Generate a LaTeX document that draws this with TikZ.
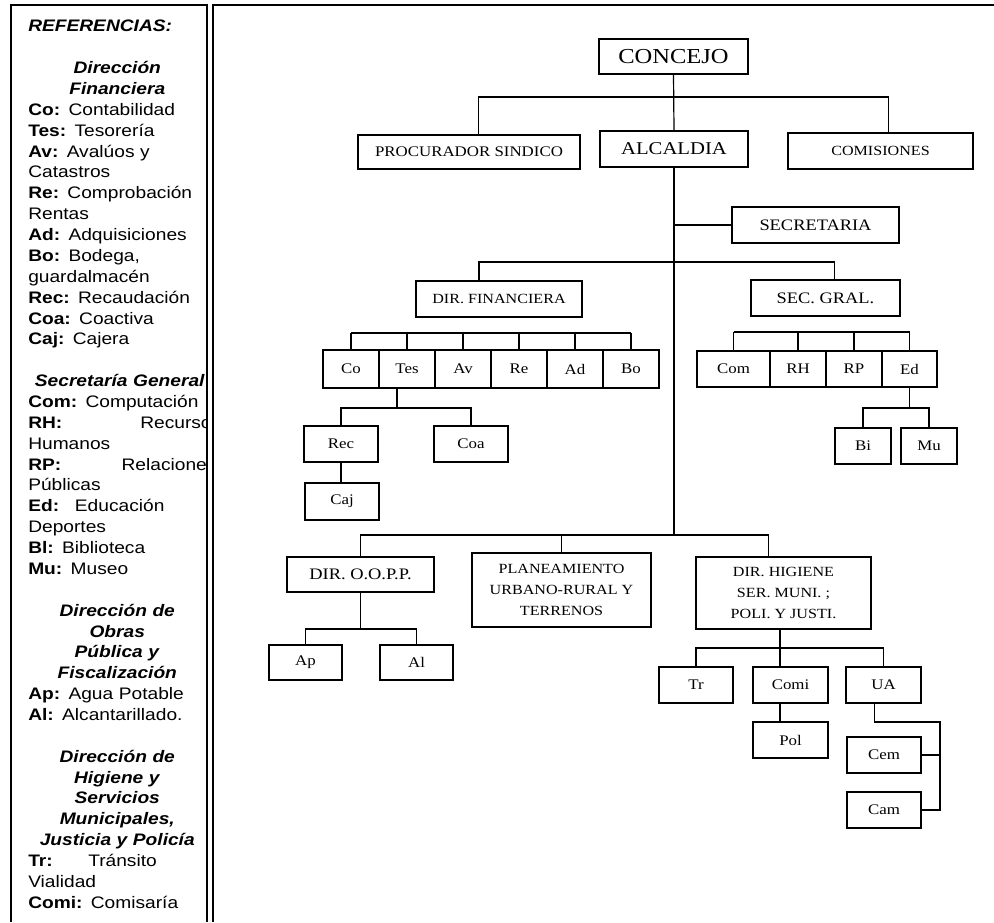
\documentclass[tikz,border=0pt]{standalone}
\usepackage{fontspec}
\setmainfont{Liberation Serif}[FakeStretch=1.15]
\newfontfamily\refsfont{Liberation Sans}[FakeStretch=1.15]
\newcommand\refhead[1]{\makebox[133.5pt][c]{\textbf{\textit{#1}}}}

\begin{document}
\begin{tikzpicture}[x=0.75pt, y=-0.75pt,
    unit/.style={rectangle, draw, line width=1.1pt, inner sep=0pt, align=center, font=\fontsize{11}{13}\selectfont},
    dims/.style 2 args={minimum width=#1*0.75pt, minimum height=#2*0.75pt},
    link/.style={line width=0.9pt},
    frame/.style={line width=1.2pt},
    refs/.style={font=\refsfont\fontsize{12.5}{15.65}\selectfont, text width=133.5pt, align=left, inner sep=0pt}
]
\useasboundingbox (0,0) rectangle (994,922);

% frames
\draw[frame] (11,922) -- (11,5) -- (207,5) -- (207,922);
\draw[frame] (213,922) -- (213,5) -- (994,5);

% legend
\begin{scope}
\clip (11,5) rectangle (206,922);
\node[refs, anchor=north west] (refs) at (28,20) {%
\textbf{\textit{REFERENCIAS:}}\\
\mbox{}\\
\refhead{Dirección}\\
\refhead{Financiera}\\
\textbf{Co:} Contabilidad\\
\textbf{Tes:} Tesorería\\
\textbf{Av:} Avalúos y\\
Catastros\\
\textbf{Re:} Comprobación\\
Rentas\\
\textbf{Ad:} Adquisiciones\\
\textbf{Bo:} Bodega,\\
guardalmacén\\
\textbf{Rec:} Recaudación\\
\textbf{Coa:} Coactiva\\
\textbf{Caj:} Cajera\\
\mbox{}\\
\hspace*{5pt}\textbf{\textit{Secretaría General}}\\
\textbf{Com:} Computación\\
\makebox[84pt][l]{\textbf{RH:}}Recursos\\
Humanos\\
\makebox[70pt][l]{\textbf{RP:}}Relaciones\\
Públicas\\
\makebox[35pt][l]{\textbf{Ed:}}Educación\\
Deportes\\
\textbf{Bl:} Biblioteca\\
\textbf{Mu:} Museo\\
\mbox{}\\
\refhead{Dirección de}\\
\refhead{Obras}\\
\refhead{Pública y}\\
\refhead{Fiscalización}\\
\textbf{Ap:} Agua Potable\\
\textbf{Al:} Alcantarillado.\\
\mbox{}\\
\refhead{Dirección de}\\
\refhead{Higiene y}\\
\refhead{Servicios}\\
\refhead{Municipales,}\\
\refhead{Justicia y Policía}\\
\makebox[45pt][l]{\textbf{Tr:}}Tránsito\\
Vialidad\\
\textbf{Comi:} Comisaría};
\end{scope}

% upper levels
\node[unit, dims={149}{35}, font=\fontsize{16}{18}\selectfont] (concejo) at (673.5,56.5) {CONCEJO};
\node[unit, dims={222}{34}] (procurador) at (469,152) {PROCURADOR SINDICO};
\node[unit, dims={148}{36}, font=\fontsize{13.5}{16}\selectfont] (alcaldia) at (674,149) {ALCALDIA};
\node[unit, dims={185}{36}, font=\fontsize{10.5}{12}\selectfont] (comisiones) at (880.5,151) {COMISIONES};
\node[unit, dims={167}{36}, font=\fontsize{12}{14}\selectfont] (secretaria) at (815.5,225) {SECRETARIA};
\node[unit, dims={166}{36}, font=\fontsize{10.5}{12}\selectfont] (dirfin) at (499,299) {DIR. FINANCIERA};
\node[unit, dims={149}{36}, font=\fontsize{12}{14}\selectfont] (secgral) at (825.5,298) {SEC. GRAL.};

% financiera
\foreach \n/\t [count=\i] in {co/Co, tes/Tes, av/Av, re/Re, ad/Ad, bo/Bo}
    \node[unit, dims={56}{38}] (\n) at (295+56*\i,369) {\t};
\node[unit, dims={74}{36}] (rec) at (341,444) {Rec};
\node[unit, dims={74}{36}] (coa) at (471,444) {Coa};
\node[unit, dims={74}{37}] (caj) at (342,501.5) {Caj};

% secretaria general
\node[unit, dims={73}{36}] (com) at (733.5,369) {Com};
\node[unit, dims={56}{36}] (rh) at (798,369) {RH};
\node[unit, dims={56}{36}] (rp) at (854,369) {RP};
\node[unit, dims={55}{36}] (ed) at (909.5,369) {Ed};
\node[unit, dims={56}{36}] (bi) at (863,446) {Bi};
\node[unit, dims={56}{36}] (mu) at (929,446) {Mu};

% lower level
\node[unit, dims={147}{35}, font=\fontsize{12}{14}\selectfont] (dirop) at (360.5,574.5) {DIR. O.O.P.P.};
\node[unit, dims={179}{74}, font=\fontsize{10.5}{16}\selectfont] (plan) at (561.5,590) {PLANEAMIENTO\\URBANO-RURAL Y\\TERRENOS};
\node[unit, dims={175}{72}, font=\fontsize{10.5}{16}\selectfont] (dirhig) at (783.5,593) {DIR. HIGIENE\\SER. MUNI. ;\\POLI. Y JUSTI.};
\node[unit, dims={73}{35}] (ap) at (305.5,662.5) {Ap};
\node[unit, dims={73}{35}] (al) at (416.5,662.5) {Al};
\node[unit, dims={74}{36}] (tr) at (696,685) {Tr};
\node[unit, dims={75}{36}] (comi) at (790.5,685) {Comi};
\node[unit, dims={75}{36}] (ua) at (883.5,685) {UA};
\node[unit, dims={75}{36}] (pol) at (790.5,740) {Pol};
\node[unit, dims={74}{36}] (cem) at (884,755) {Cem};
\node[unit, dims={74}{36}] (cam) at (884,810) {Cam};

% connectors
\coordinate (topbar) at (674,97);
\coordinate (midbar) at (676,262);
\coordinate (lowbar) at (676,535);
\coordinate (finbar) at (490,333);
\coordinate (secbar) at (826,332);
\coordinate (tesbar) at (397,408);
\coordinate (edbar) at (909.5,408);
\coordinate (opbar) at (361,629);
\coordinate (higbar) at (780,648);
\coordinate (uaside) at (940,722);

\draw[link] (concejo.south) -- (alcaldia.north);
\draw[link] ([xshift=7pt]procurador.north) |- (topbar) -| ([xshift=6pt]comisiones.north);
\draw[link] (alcaldia.south) -- (alcaldia.south |- lowbar);
\draw[link] (alcaldia.south |- secretaria.west) -- (secretaria.west);
\draw[link] ([xshift=-15pt]dirfin.north) |- (midbar) -| ([xshift=7pt]secgral.north);

\draw[link] (co.north |- finbar) -- (bo.north |- finbar);
\foreach \n in {co,tes,av,re,ad,bo}
    \draw[link] (\n.north) -- (\n.north |- finbar);
\draw[link] (tesbar |- tes.south) -- (tesbar);
\draw[link] (rec.north) |- (tesbar) -| (coa.north);
\draw[link] (rec.south) -- (rec.south |- caj.north);

\draw[link] (com.north |- secbar) -- (ed.north |- secbar);
\foreach \n in {com,rh,rp,ed}
    \draw[link] (\n.north) -- (\n.north |- secbar);
\draw[link] (ed.south) -- (edbar);
\draw[link] (bi.north) |- (edbar) -| (mu.north);

\draw[link] (dirop.north) |- (lowbar) -| ([xshift=-11pt]dirhig.north);
\draw[link] (plan.north) -- (plan.north |- lowbar);
\draw[link] (dirop.south) -- (dirop.south |- opbar);
\draw[link] (ap.north) |- (opbar) -| (al.north);

\draw[link] (higbar |- dirhig.south) -- (higbar |- comi.north);
\draw[link] (tr.north) |- (higbar) -| (ua.north);
\draw[link] (higbar |- comi.south) -- (higbar |- pol.north);
\draw[link] ([xshift=-7pt]ua.south) |- (uaside) -- (uaside |- cam.east) -- (cam.east);
\draw[link] (cem.east) -- (cem.east -| uaside);
\end{tikzpicture}
\end{document}
